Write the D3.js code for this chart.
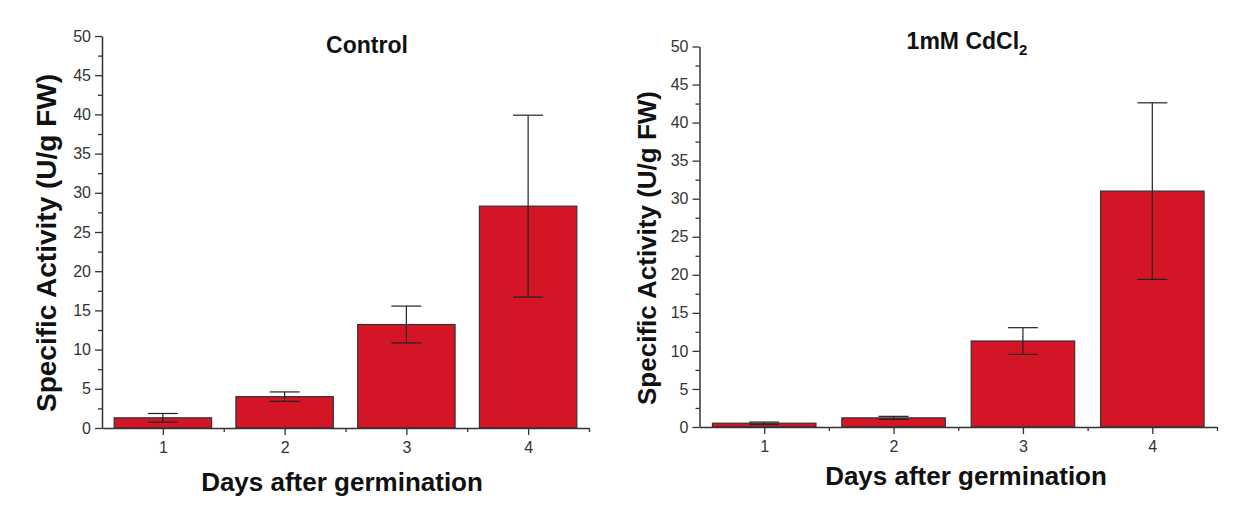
<!DOCTYPE html>
<html>
<head>
<meta charset="utf-8">
<script src="https://cdn.jsdelivr.net/npm/d3@7"></script>
<style>
  body { margin: 0; background: #fff; }
  svg { font-family: "Liberation Sans", Arial, sans-serif; }
</style>
</head>
<body>
<svg id="chart" width="1257" height="523"></svg>
<script>
// data
const days = [1, 2, 3, 4];
const controlMean = [1.3, 4.0, 13.2, 28.3];
const controlErr = [0.55, 0.6, 2.35, 11.6];
const cdMean = [0.5, 1.2, 11.3, 31.0];
const cdErr = [0.15, 0.2, 1.75, 11.6];
const yTicks = [0, 5, 10, 15, 20, 25, 30, 35, 40, 45, 50];

const barColor = "#d41526";
const svg = d3.select("#chart");

// each panel gets its own box (plot area in page pixels)
const panels = [
  {title: "Control", mean: controlMean, err: controlErr,
   left: 102, right: 589, top: 36, bottom: 428,
   yLabelX: 46, yLabelY: 243, yLabelSize: 28, titleX: 367, titleY: 53, xLabelX: 342, xLabelY: 491},
  {title: "1mM CdCl", sub: "2", mean: cdMean, err: cdErr,
   left: 699.5, right: 1217, top: 46.5, bottom: 427,
   yLabelX: 647, yLabelY: 248, yLabelSize: 26, titleX: 967, titleY: 49, xLabelX: 966, xLabelY: 485}
];

panels.forEach(function(p){
  const x = d3.scaleLinear().domain([0.5, 4.5]).range([p.left, p.right]);
  const y = d3.scaleLinear().domain([0, 50]).range([p.bottom, p.top]);
  const g = svg.append("g");
  const bw = x(1.4) - x(0.6);

  // bars
  g.selectAll("rect.bar")
    .data(days)
    .enter().append("rect")
    .attr("class", "bar")
    .attr("x", function(d){ return x(d) - bw/2; })
    .attr("y", function(d, i){ return y(p.mean[i]); })
    .attr("width", bw)
    .attr("height", function(d, i){ return y(0) - y(p.mean[i]); })
    .attr("fill", barColor)
    .attr("stroke", "#333")
    .attr("stroke-width", 1.2);

  // error bars
  const eb = g.selectAll("g.err")
    .data(days)
    .enter().append("g")
    .attr("class", "err")
    .attr("stroke", "#222")
    .attr("stroke-width", 1.2);
  eb.append("line")
    .attr("x1", function(d){ return x(d); })
    .attr("x2", function(d){ return x(d); })
    .attr("y1", function(d, i){ return y(p.mean[i] + p.err[i]); })
    .attr("y2", function(d, i){ return y(p.mean[i] - p.err[i]); });
  [1, -1].forEach(function(s){
    eb.append("line")
      .attr("x1", function(d){ return x(d) - 15; })
      .attr("x2", function(d){ return x(d) + 15; })
      .attr("y1", function(d, i){ return y(p.mean[i] + s*p.err[i]); })
      .attr("y2", function(d, i){ return y(p.mean[i] + s*p.err[i]); });
  });

  // y axis
  g.append("g")
    .attr("transform", "translate(" + p.left + ",0)")
    .call(d3.axisLeft(y).tickValues(yTicks).tickSize(7).tickPadding(4).tickSizeOuter(0));
  g.append("g")
    .attr("transform", "translate(" + p.left + ",0)")
    .call(d3.axisLeft(y).tickValues(d3.range(2.5, 50, 5)).tickSize(4).tickFormat("").tickSizeOuter(0))
    .select(".domain").remove();

  // x axis
  g.append("g")
    .attr("transform", "translate(0," + p.bottom + ")")
    .call(d3.axisBottom(x).tickValues(days).tickSize(7).tickPadding(7).tickFormat(d3.format("d")).tickSizeOuter(0));
  g.append("g")
    .attr("transform", "translate(0," + p.bottom + ")")
    .call(d3.axisBottom(x).tickValues([1.5, 2.5, 3.5, 4.5]).tickSize(4).tickFormat("").tickSizeOuter(0))
    .select(".domain").remove();

  g.selectAll(".domain").attr("stroke", "#333").attr("stroke-width", 1.5);
  g.selectAll(".tick line").attr("stroke", "#333").attr("stroke-width", 1.3);
  g.selectAll(".tick text")
    .attr("font-family", "Liberation Sans, Arial, sans-serif")
    .attr("font-size", 16)
    .attr("fill", "#333");

  // titles
  const t = g.append("text")
    .attr("x", p.titleX)
    .attr("y", p.titleY)
    .attr("text-anchor", "middle")
    .attr("font-size", 23)
    .attr("font-weight", "bold")
    .attr("fill", "#111")
    .text(p.title);
  if (p.sub) {
    t.append("tspan")
      .attr("font-size", 15)
      .attr("dy", 6)
      .text(p.sub);
  }

  g.append("text")
    .attr("transform", "translate(" + p.yLabelX + "," + p.yLabelY + ") rotate(-90)")
    .attr("text-anchor", "middle")
    .attr("dy", "0.35em")
    .attr("font-size", p.yLabelSize)
    .attr("font-weight", "bold")
    .attr("fill", "#111")
    .text("Specific Activity (U/g FW)");

  g.append("text")
    .attr("x", p.xLabelX)
    .attr("y", p.xLabelY)
    .attr("text-anchor", "middle")
    .attr("font-size", 26)
    .attr("font-weight", "bold")
    .attr("fill", "#111")
    .text("Days after germination");
});
</script>
</body>
</html>
